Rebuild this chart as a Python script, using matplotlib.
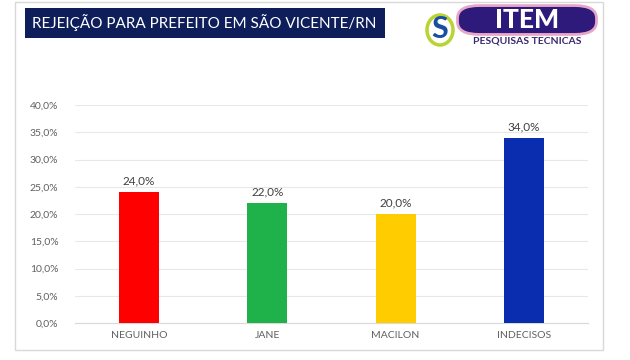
import matplotlib.pyplot as plt
from matplotlib.patches import Rectangle, FancyBboxPatch, Ellipse

plt.rcParams['font.family'] = ['Lato', 'DejaVu Sans']

# Data
candidates = ['NEGUINHO', 'JANE', 'MACILON', 'INDECISOS']
rejection = [24.0, 22.0, 20.0, 34.0]
colors = ['#ff0000', '#1fb14a', '#ffcc00', '#0a2db0']
yticks = [0, 5, 10, 15, 20, 25, 30, 35, 40]

fig = plt.figure(figsize=(6.3, 3.6), dpi=100)
W, H = 630, 360

# outer frame
fig.patches.append(Rectangle((15 / W, 1 - 350 / H), 588 / W, 348 / H, transform=fig.transFigure,
                             fill=False, edgecolor='#d9d9d9', linewidth=1))

# title box
fig.patches.append(Rectangle((25 / W, 1 - 38 / H), 360 / W, 30 / H, transform=fig.transFigure,
                             facecolor='#0d1e5a', edgecolor='none'))
fig.text(32 / W, 1 - 23 / H, 'REJEIÇÃO PARA PREFEITO EM SÃO VICENTE/RN', color='white',
         fontsize=11, va='center', ha='left')

# "S" logo
fig.patches.append(Ellipse((440 / W, 1 - 30 / H), 26 / W, 30 / H, transform=fig.transFigure,
                           facecolor='white', edgecolor='#b7d432', linewidth=2.5))
fig.text(440 / W, 1 - 29 / H, 'S', color='#1a4fa0', fontsize=22, fontweight='bold',
         ha='center', va='center')

# ITEM logo
fig.patches.append(FancyBboxPatch((460 / W, 1 - 33 / H), 134 / W, 26 / H,
                                  boxstyle='round,pad=0.004,rounding_size=0.035',
                                  transform=fig.transFigure, facecolor='#2e1a7a',
                                  edgecolor='#e6a6c8', linewidth=2))
fig.text(527 / W, 1 - 20 / H, 'ITEM', color='white', fontsize=19, fontweight='black',
         ha='center', va='center')
fig.text(527 / W, 1 - 41 / H, 'PESQUISAS TECNICAS', color='#3a2a70', fontsize=7.5,
         fontweight='bold', ha='center', va='center')

ax = fig.add_axes([75 / W, 1 - 323 / H, 513 / W, 218 / H])
x = range(len(candidates))
ax.bar(x, rejection, width=0.31, color=colors, zorder=3)
for xi, v in zip(x, rejection):
    ax.text(xi, v + 1.0, f'{v:.1f}%'.replace('.', ','), ha='center', va='bottom',
            fontsize=8.5, color='#404040')

ax.set_ylim(0, 40)
ax.set_xlim(-0.5, len(candidates) - 0.5)
ax.set_yticks(yticks)
ax.set_yticklabels([f'{t:.1f}%'.replace('.', ',') for t in yticks])
ax.set_xticks(list(x))
ax.set_xticklabels(candidates)
ax.tick_params(axis='both', length=0, labelsize=7.5, labelcolor='#606060')
ax.tick_params(axis='y', pad=12)
ax.tick_params(axis='x', pad=6)
ax.grid(axis='y', color='#e8e8e8', linewidth=0.8, zorder=0)
for s in ['top', 'right', 'left']:
    ax.spines[s].set_visible(False)
ax.spines['bottom'].set_color('#d9d9d9')

fig.savefig('out.png', dpi=100)
